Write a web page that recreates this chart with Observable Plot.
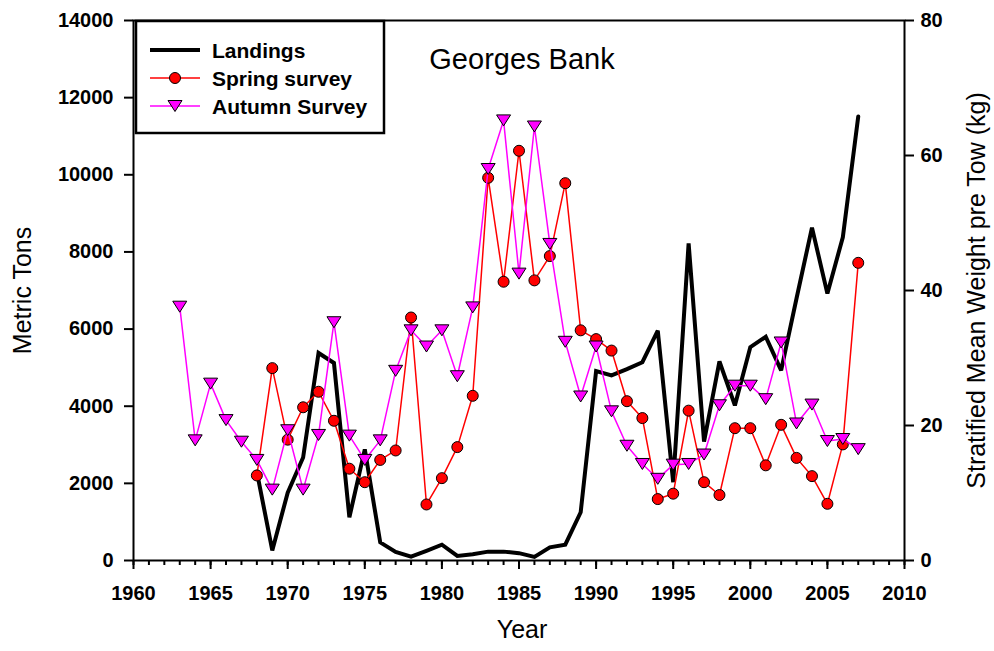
<!DOCTYPE html>
<html>
<head>
<meta charset="utf-8">
<script src="https://cdn.jsdelivr.net/npm/d3@7"></script>
<script src="https://cdn.jsdelivr.net/npm/@observablehq/plot@0.6"></script>
<style>
  body { margin: 0; background: #fff; }
  #wrap { position: relative; width: 994px; height: 651px; }
  #wrap svg.overlay { position: absolute; left: 0; top: 0; pointer-events: none; }
</style>
</head>
<body>
<div id="wrap"></div>
<script>
// ---------- data ----------
const landingYears = [1968,1969,1970,1971,1972,1973,1974,1975,1976,1977,1978,1979,1980,1981,1982,1983,1984,1985,1986,1987,
  1988,1989,1990,1991,1992,1993,1994,1995,1996,1997,1998,1999,2000,2001,2002,2003,2004,2005,2006,2007];
const landings = [2300,260,1760,2670,5380,5120,1120,2880,470,220,100,250,410,120,160,230,230,190,95,340,
  410,1250,4910,4800,4960,5140,5960,2030,8220,3080,5160,4020,5530,5800,4930,6800,8630,6920,8380,11510];

const springYears = landingYears;
const spring = [12.6,28.5,17.9,22.7,25.0,20.7,13.6,11.6,14.9,16.3,36.0,8.3,12.2,16.8,24.4,56.7,41.3,60.7,41.5,45.1,
  55.9,34.1,32.8,31.1,23.6,21.1,9.1,9.9,22.2,11.6,9.7,19.6,19.6,14.1,20.1,15.2,12.5,8.4,17.2,44.1];

const autumnYears = [1963,1964,1965,1966,1967,1968,1969,1970,1971,1972,1973,1974,1975,1976,1977,1978,1979,1980,1981,1982,
  1983,1984,1985,1986,1987,1988,1989,1990,1991,1992,1993,1994,1995,1996,1997,1998,1999,2000,2001,2002,2003,2004,2005,2006,2007];
const autumn = [37.6,17.8,26.2,20.8,17.6,14.9,10.5,19.3,10.5,18.6,35.3,18.5,14.9,17.8,28.1,34.1,31.7,34.1,27.3,37.5,
  58.0,65.2,42.5,64.3,46.9,32.4,24.3,31.7,22.1,17.0,14.3,12.1,14.2,14.3,15.7,23.0,25.9,25.9,23.9,32.3,20.3,23.1,17.7,18.0,16.5];

const xMajorTicks = [1960,1965,1970,1975,1980,1985,1990,1995,2000,2005,2010];
const xMinorTicks = [1960,1961,1962,1963,1964,1965,1966,1967,1968,1969,1970,1971,1972,1973,1974,1975,1976,1977,1978,1979,
  1980,1981,1982,1983,1984,1985,1986,1987,1988,1989,1990,1991,1992,1993,1994,1995,1996,1997,1998,1999,
  2000,2001,2002,2003,2004,2005,2006,2007,2008,2009,2010];
const leftTicks = [0,2000,4000,6000,8000,10000,12000,14000];
const rightTicks = [0,20,40,60,80];

const titleText = "Georges Bank";
const xLabel = "Year";
const yLeftLabel = "Metric Tons";
const yRightLabel = "Stratified Mean Weight pre Tow (kg)";
const legendLabels = ["Landings", "Spring survey", "Autumn Survey"];

// ---------- chart ----------
const leftMax = 14000, rightMax = 80;
const K = leftMax / rightMax; // right-axis kg -> left-axis tons
const fam = '"Liberation Sans", Arial, Helvetica, sans-serif';

const downTri = {
  draw(ctx) { ctx.moveTo(-7, -5.5); ctx.lineTo(7, -5.5); ctx.lineTo(0, 5.5); ctx.closePath(); }
};

const landingsData = landingYears.map((year, i) => ({year, v: landings[i]}));
const springData = springYears.map((year, i) => ({year, v: spring[i]}));
const autumnData = autumnYears.map((year, i) => ({year, v: autumn[i]}));

const W = 994, H = 651;
const mL = 133, mR = 90, mT = 20, mB = 91;

const chart = Plot.plot({
  width: W, height: H,
  marginLeft: mL, marginRight: mR, marginTop: mT, marginBottom: mB,
  style: {fontFamily: fam, background: "white", color: "black"},
  x: {domain: [1960, 2010]},
  y: {domain: [0, leftMax]},
  marks: [
    Plot.axisX({ticks: xMinorTicks, tickSize: 5, tickFormat: () => "", strokeWidth: 2, label: null}),
    Plot.axisX({ticks: xMajorTicks, tickSize: 9, tickPadding: 16, tickFormat: d => String(d),
      fontSize: 20, fontWeight: "bold", strokeWidth: 2, label: null}),
    Plot.axisY({ticks: leftTicks, tickSize: 9, tickPadding: 11, tickFormat: d => String(d),
      fontSize: 20, fontWeight: "bold", strokeWidth: 2, label: null}),
    Plot.axisY({anchor: "right", ticks: rightTicks.map(v => v * K), tickFormat: d => String(Math.round(d / K)),
      tickSize: 9, tickPadding: 7, fontSize: 20, fontWeight: "bold", strokeWidth: 2, label: null}),
    Plot.frame({strokeWidth: 2}),
    Plot.line(landingsData, {x: "year", y: "v", stroke: "black", strokeWidth: 4,
      strokeLinejoin: "miter", strokeMiterlimit: 3}),
    Plot.line(springData, {x: "year", y: d => d.v * K, stroke: "#ff0000", strokeWidth: 1.5}),
    Plot.dot(springData, {x: "year", y: d => d.v * K, r: 5.5, fill: "#ff0000", stroke: "black", strokeWidth: 1}),
    Plot.line(autumnData, {x: "year", y: d => d.v * K, stroke: "#ff00ff", strokeWidth: 1.5}),
    Plot.dot(autumnData, {x: "year", y: d => d.v * K, symbol: downTri, fill: "#ff00ff", stroke: "black", strokeWidth: 1}),
    Plot.text([titleText], {text: d => d, frameAnchor: "top", dy: 28, dx: 3, fontSize: 29}),
    Plot.text([yLeftLabel], {text: d => d, frameAnchor: "left", textAnchor: "middle", rotate: -90, dx: -111, fontSize: 25}),
    Plot.text([yRightLabel], {text: d => d, frameAnchor: "right", textAnchor: "middle", rotate: -90, dx: 72, fontSize: 25}),
    Plot.text([xLabel], {text: d => d, frameAnchor: "bottom", dy: 77, dx: 3, fontSize: 25})
  ]
});

const wrap = document.getElementById("wrap");
wrap.appendChild(chart);

// ---------- legend overlay ----------
const lg = d3.select(wrap).append("svg").attr("class", "overlay")
  .attr("width", W).attr("height", H)
  .style("font-family", fam);

const box = {x: 136, y: 21, w: 248, h: 112};
lg.append("rect").attr("x", box.x).attr("y", box.y).attr("width", box.w).attr("height", box.h)
  .attr("fill", "white").attr("stroke", "black").attr("stroke-width", 2.5);

const styles = [
  {stroke: "black", width: 4, marker: null},
  {stroke: "#ff0000", width: 1.5, marker: "circle"},
  {stroke: "#ff00ff", width: 1.5, marker: "tri"}
];
legendLabels.forEach((label, i) => {
  const cy = box.y + 29 + i * 28;
  const s = styles[i];
  lg.append("line").attr("x1", box.x + 14).attr("x2", box.x + 64).attr("y1", cy).attr("y2", cy)
    .attr("stroke", s.stroke).attr("stroke-width", s.width);
  if (s.marker === "circle") {
    lg.append("circle").attr("cx", box.x + 39).attr("cy", cy).attr("r", 5.5)
      .attr("fill", "#ff0000").attr("stroke", "black").attr("stroke-width", 1);
  } else if (s.marker === "tri") {
    lg.append("path").attr("transform", `translate(${box.x + 39},${cy})`)
      .attr("d", d3.symbol(downTri)())
      .attr("fill", "#ff00ff").attr("stroke", "black").attr("stroke-width", 1);
  }
  lg.append("text").attr("x", box.x + 76).attr("y", cy + 7.5)
    .attr("font-size", 21).attr("font-weight", "bold").text(label);
});
</script>
</body>
</html>
